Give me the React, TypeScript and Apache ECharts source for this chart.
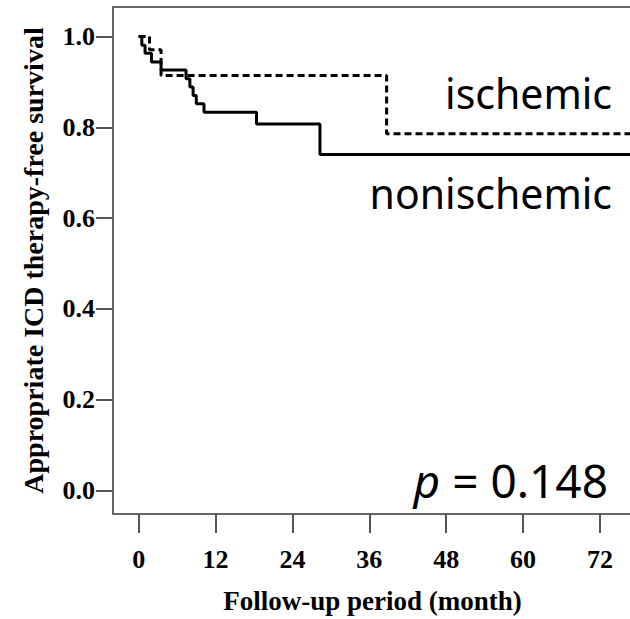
import React, { useEffect, useRef } from "react";
import * as echarts from "echarts";

// Kaplan–Meier estimates: follow-up month at each event and survival from that month on
const nonischemicMonths = [0, 0.5, 1.0, 2.0, 3.5, 7.4, 8.0, 8.5, 9.0, 10.2, 18.4, 28.3, 77];
const nonischemicSurvival = [1.0, 0.981, 0.963, 0.944, 0.926, 0.907, 0.889, 0.87, 0.852, 0.833, 0.807, 0.74, 0.74];

const ischemicMonths = [0, 1.7, 3.5, 38.7, 77];
const ischemicSurvival = [1.0, 0.971, 0.914, 0.786, 0.786];

const monthTicks = [0, 12, 24, 36, 48, 60, 72];
const survivalTicks = [0, 0.2, 0.4, 0.6, 0.8, 1.0];

const groupLabels = ["ischemic", "nonischemic"];
const pValueText = "0.148";

const zip = (xs: number[], ys: number[]) => xs.map((x, i) => [x, ys[i]]);

export default function App() {
  const ref = useRef<HTMLDivElement>(null);

  useEffect(() => {
    if (!ref.current) return;
    const chart = echarts.init(ref.current, null, { renderer: "svg" });
    const axisFont = {
      fontFamily: "Liberation Serif",
      fontWeight: "bold" as const,
      color: "#000",
    };
    chart.setOption({
      animation: false,
      backgroundColor: "#fff",
      grid: {
        left: 113,
        top: 7,
        width: 519,
        height: 515,
        show: true,
        borderColor: "#666",
        borderWidth: 2,
        containLabel: false,
      },
      xAxis: {
        type: "value",
        min: -4,
        max: 77,
        splitLine: { show: false },
        axisLine: { show: false, onZero: false },
        axisTick: { show: true, length: 19, customValues: monthTicks, lineStyle: { color: "#555", width: 2 } },
        axisLabel: {
          customValues: monthTicks,
          margin: 32,
          fontSize: 26,
          ...axisFont,
        },
        name: "Follow-up period (month)",
        nameLocation: "middle",
        nameGap: 73,
        nameTextStyle: { fontSize: 27, ...axisFont },
      },
      yAxis: {
        type: "value",
        min: -0.052,
        max: 1.065,
        splitLine: { show: false },
        axisLine: { show: false, onZero: false },
        axisTick: { show: true, length: 17, customValues: survivalTicks, lineStyle: { color: "#555", width: 2 } },
        axisLabel: {
          customValues: survivalTicks,
          margin: 18,
          fontSize: 26,
          formatter: (v: number) => v.toFixed(1),
          ...axisFont,
        },
        name: "Appropriate ICD therapy-free survival",
        nameLocation: "middle",
        nameGap: 66,
        nameTextStyle: { fontSize: 28, ...axisFont },
      },
      series: [
        {
          name: groupLabels[1],
          type: "line",
          step: "end",
          symbol: "none",
          data: zip(nonischemicMonths, nonischemicSurvival),
          lineStyle: { color: "#000", width: 3 },
          clip: true,
        },
        {
          name: groupLabels[0],
          type: "line",
          step: "end",
          symbol: "none",
          data: zip(ischemicMonths, ischemicSurvival),
          lineStyle: { color: "#000", width: 3, type: [7, 4] },
          clip: true,
        },
      ],
      graphic: [
        {
          type: "text",
          right: 48,
          top: 72,
          style: { text: groupLabels[0], font: "41px 'Noto Sans'", fill: "#000" },
        },
        {
          type: "text",
          right: 48,
          top: 172,
          style: { text: groupLabels[1], font: "41px 'Noto Sans'", fill: "#000" },
        },
        {
          type: "text",
          right: 52,
          top: 457,
          style: {
            text: "{i|p} = " + pValueText,
            font: "46px 'Noto Sans'",
            fill: "#000",
            rich: { i: { fontStyle: "italic", fontSize: 46, fontFamily: "Noto Sans" } },
          },
        },
      ],
    });
    return () => chart.dispose();
  }, []);

  return (
    <div style={{ position: "fixed", left: 0, top: 0, width: 630, height: 619, overflow: "hidden", background: "#fff" }}>
      <div ref={ref} style={{ width: 660, height: 619 }} />
    </div>
  );
}
